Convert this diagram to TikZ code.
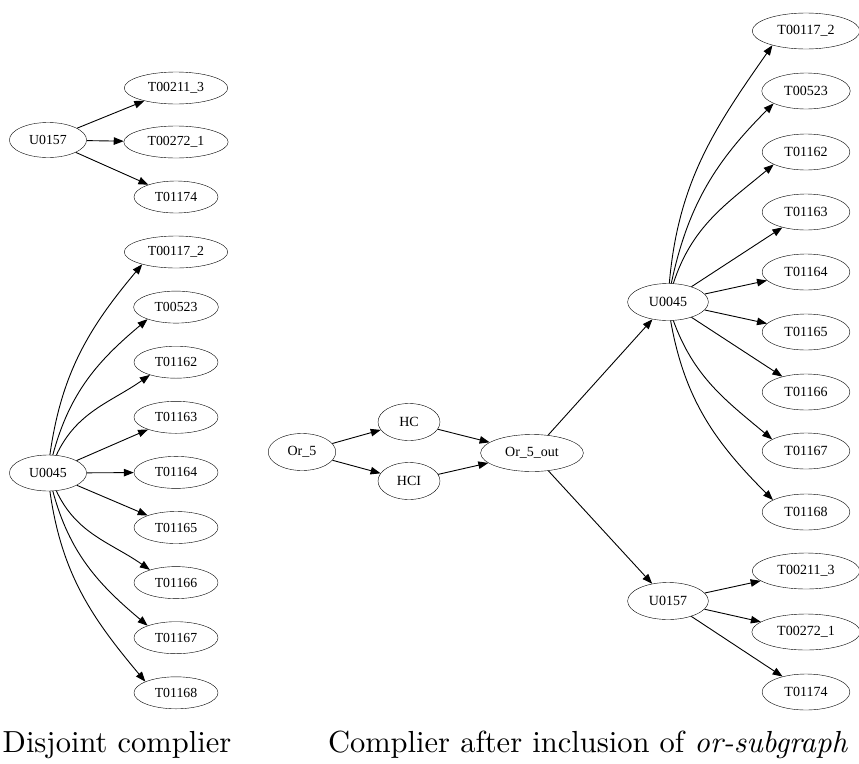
\documentclass[tikz,border=0pt]{standalone}
\usepackage{fontspec}
\newfontfamily\dotfont{Liberation Serif}
\usetikzlibrary{shapes.geometric, arrows.meta}

\tikzset{
  lnode/.style={draw, ellipse, font=\dotfont\fontsize{13.8}{16}\selectfont, inner xsep=8.5pt, inner ysep=1pt, minimum height=32pt},
  rnode/.style={draw, ellipse, font=\dotfont\fontsize{14}{16}\selectfont, inner xsep=9.5pt, inner ysep=1pt, minimum height=37pt},
  edge/.style={-{Triangle[length=10pt,width=7.5pt]}, line width=0.9pt},
  captext/.style={anchor=base, font=\fontsize{10}{12}\selectfont, scale=3.05, transform shape},
}

\begin{document}
\begin{tikzpicture}[x=1pt, y=1pt]
        \useasboundingbox (0,0) rectangle (859,-763);

        % Disjoint complier, top part
        \node[lnode, minimum height=35pt] (lu157) at (48,-140) {U0157};
        \foreach \k/\y/\val in {0/88/T00211\_3, 1/142/T00272\_1, 2/197/T01174} {
          \node[lnode] (ls\k) at (176,-\y) {\val};
          \draw[edge] (lu157) -- (ls\k);
        }

        % Disjoint complier, bottom part
        \node[lnode, minimum height=36pt] (lu45) at (48,-473) {U0045};
        \foreach \k/\val in {0/T00117\_2, 1/T00523, 2/T01162, 3/T01163, 4/T01164, 5/T01165, 6/T01166, 7/T01167, 8/T01168} {
          \node[lnode] (lt\k) at (176,{-252-55.1*\k}) {\val};
        }
        \foreach \k/\sa/\so/\ea/\ei in {0/84/82/200/230, 1/75/75/203/220, 2/65/65/206/215, 6/295/-65/154/145, 7/285/-75/157/140, 8/276/-82/160/130} {
          \draw[edge] (lu45.\sa) to[out=\so, in=\ei] (lt\k.\ea);
        }
        \foreach \k in {3,4,5} {
          \draw[edge] (lu45) -- (lt\k);
        }

        % After inclusion
        \node[rnode] (or5) at (302,-452) {Or\_5};
        \node[rnode, minimum width=62pt] (hc) at (409,-422) {HC};
        \node[rnode, minimum width=62pt] (hci) at (409,-481) {HCI};
        \node[rnode] (or5out) at (532,-453) {Or\_5\_out};
        \node[rnode] (ru45) at (668,-302) {U0045};
        \node[rnode] (ru157) at (668,-601) {U0157};

        \draw[edge] (or5) -- (hc);
        \draw[edge] (or5) -- (hci);
        \draw[edge] (hc) -- (or5out);
        \draw[edge] (hci) -- (or5out);
        \draw[edge] (or5out) -- (ru45);
        \draw[edge] (or5out) -- (ru157);

        \foreach \k/\y/\val in {0/31/T00117\_2, 1/91/T00523, 2/152/T01162, 3/212/T01163, 4/272/T01164, 5/332/T01165, 6/392/T01166, 7/451/T01167, 8/512/T01168} {
          \node[rnode, minimum height=36pt] (rt\k) at (806,-\y) {\val};
        }
        \foreach \k/\sa/\so/\ea/\ei in {0/86/85/203/235, 1/80/78/201/225, 2/74/72/201/220, 7/286/-70/161/140, 8/278/-80/160/135} {
          \draw[edge] (ru45.\sa) to[out=\so, in=\ei] (rt\k.\ea);
        }
        \foreach \k in {3,4,5,6} {
          \draw[edge] (ru45) -- (rt\k);
        }

        \foreach \k/\y/\val in {0/571/T00211\_3, 1/632/T00272\_1, 2/692/T01174} {
          \node[rnode, minimum height=36pt] (rs\k) at (806,-\y) {\val};
          \draw[edge] (ru157) -- (rs\k);
        }

        % Captions
        \node[captext] (capl) at (117,-752) {Disjoint complier};
        \node[captext] (capr) at (588,-752) {Complier after inclusion of \textit{or-subgraph}};
      \end{tikzpicture}
\end{document}
